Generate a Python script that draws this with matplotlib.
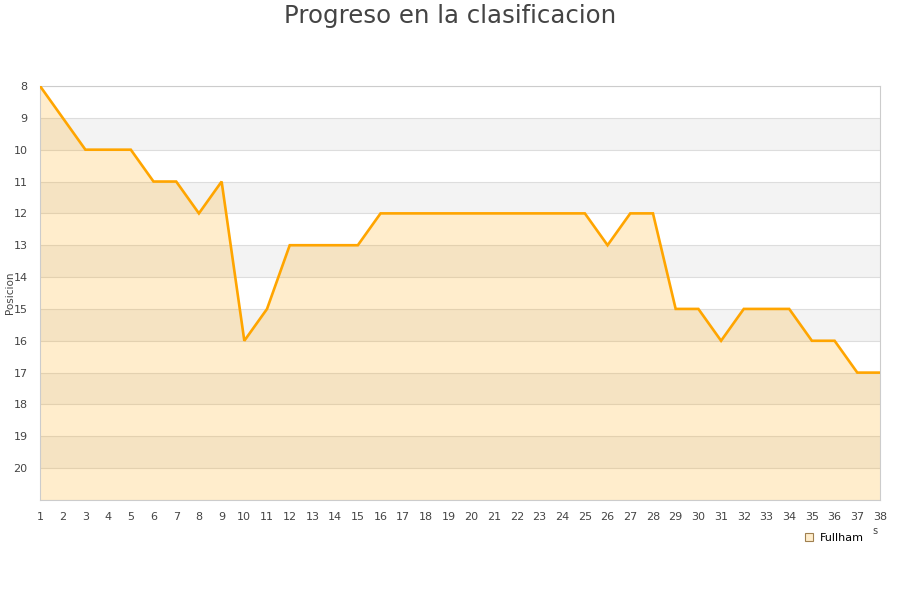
import matplotlib
matplotlib.use("Agg")
import matplotlib.pyplot as plt
from matplotlib.lines import Line2D

# Jornadas y posiciones en la tabla
jornadas = list(range(1, 39))
posiciones = [8, 9, 10, 10, 10, 11, 11, 12, 11, 16,
              15, 13, 13, 13, 13, 12, 12, 12, 12, 12,
              12, 12, 12, 12, 12, 13, 12, 12, 15, 15,
              16, 15, 15, 15, 16, 16, 17, 17]
y_ticks = list(range(8, 21))
equipo = "Fullham"
titulo = "Progreso en la clasificacion"

naranja = "#ffa500"
texto = "#444444"

fig = plt.figure(figsize=(9, 6), dpi=100)
ax = fig.add_axes([40 / 900, 1 - 500 / 600, 840 / 900, 414 / 600])

y_min, y_max = 8, 21
# alternating horizontal bands
for b in range(y_min, y_max):
    if b % 2 == 1:
        ax.axhspan(b, b + 1, color="#f3f3f3", zorder=0, lw=0)
for b in range(y_min, y_max + 1):
    ax.axhline(b, color="#dddddd", lw=0.8, zorder=1)

ax.fill_between(jornadas, posiciones, y_max, color=naranja, alpha=0.2,
                lw=0, zorder=2)
ax.plot(jornadas, posiciones, color=naranja, lw=1.9, zorder=3,
        solid_joinstyle="miter")

ax.set_xlim(1, 38)
ax.set_ylim(y_max, y_min)
ax.set_xticks(jornadas)
ax.set_yticks(y_ticks)
ax.tick_params(axis="both", length=0, labelsize=8, colors=texto)
ax.tick_params(axis="x", pad=9)
ax.tick_params(axis="y", pad=9)
for s in ax.spines.values():
    s.set_color("#cccccc")
    s.set_linewidth(0.8)

fig.text(10 / 900, 1 - 293 / 600, "Posicion", rotation=90, ha="center",
         va="center", fontsize=7.5, color=texto)
fig.text(0.5, 1 - 16 / 600, titulo, ha="center", va="center", fontsize=17.6,
         color=texto)
fig.text(875 / 900, 1 - 531 / 600, "s", ha="center", va="center",
         fontsize=7, color=texto)

handle = Line2D([], [], marker="s", linestyle="none", markersize=6,
                markerfacecolor="#ffedcc", markeredgecolor="#a08050",
                markeredgewidth=0.8)
fig.legend([handle], [equipo], loc="center", bbox_to_anchor=(834 / 900, 1 - 538 / 600),
           frameon=False, fontsize=8, handletextpad=0.5, handlelength=1.0,
           borderpad=0)

fig.savefig("out.png", dpi=100)
